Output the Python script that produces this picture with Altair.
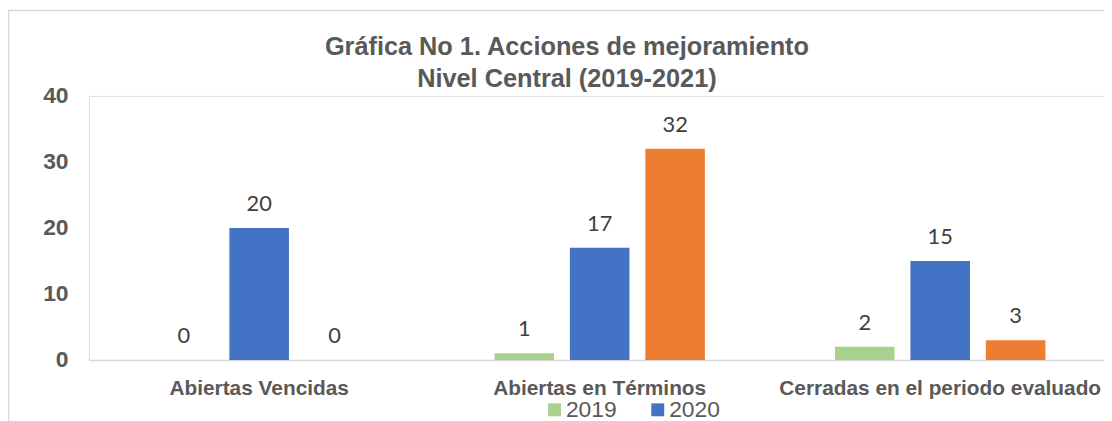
import altair as alt
import pandas as pd

categories = ["Abiertas Vencidas", "Abiertas en Términos", "Cerradas en el periodo evaluado"]
years = ["2019", "2020", "2021"]
v2019 = [0, 1, 2]
v2020 = [20, 17, 15]
v2021 = [0, 32, 3]
colors = ["#a9d18e", "#4472c4", "#ed7d31"]
y_ticks = [0, 10, 20, 30, 40]
title_lines = ["Gráfica No 1. Acciones de mejoramiento", "Nivel Central (2019-2021)"]

rows = []
for yr, vals in zip(years, [v2019, v2020, v2021]):
    for c, v in zip(categories, vals):
        rows.append({"Categoria": c, "Año": yr, "Valor": v})
df = pd.DataFrame(rows)

GRAY = "#595959"

x_enc = alt.X(
    "Categoria:N",
    sort=categories,
    scale=alt.Scale(paddingInner=0, paddingOuter=0),
    axis=alt.Axis(
        title=None, labelAngle=0, labelFont="Liberation Sans", labelFontWeight="bold",
        labelFontSize=21, labelColor=GRAY, ticks=False, domainColor="#d9d9d9",
        domainWidth=1.5, labelPadding=18, labelLimit=500,
    ),
)
xoff_enc = alt.XOffset("Año:N", sort=years, scale=alt.Scale(paddingInner=0.2105, paddingOuter=0.862))
y_enc = alt.Y(
    "Valor:Q",
    scale=alt.Scale(domain=[0, 40], nice=False),
    axis=alt.Axis(
        values=y_ticks, title=None, grid=False, domain=False, ticks=False,
        labelFont="Liberation Sans", labelFontWeight="bold", labelFontSize=23,
        labelColor=GRAY, labelPadding=21,
    ),
)

base = alt.Chart(df)

bars = base.mark_bar().encode(
    x=x_enc,
    xOffset=xoff_enc,
    y=y_enc,
    color=alt.Color(
        "Año:N",
        sort=years,
        scale=alt.Scale(domain=years, range=colors),
        legend=alt.Legend(
            title=None, orient="none", legendX=457.5, legendY=304.5,
            direction="horizontal", columns=2, symbolType="square", symbolSize=169,
            symbolStrokeWidth=0, labelFont="Liberation Sans", labelFontSize=23,
            labelColor=GRAY, columnPadding=29, rowPadding=12, padding=0,
            labelOffset=0, symbolOffset=0,
        ),
    ),
)

labels = base.mark_text(
    font="Lato", fontSize=22, color="#404040", dy=-17, baseline="alphabetic"
).encode(
    x=alt.X("Categoria:N", sort=categories),
    xOffset=alt.XOffset("Año:N", sort=years),
    y=alt.Y("Valor:Q"),
    text=alt.Text("Valor:Q"),
)

title_l1 = alt.Chart(alt.Data(values=[{"t": title_lines[0]}])).mark_text(
    font="Liberation Sans", fontSize=25.5, fontWeight="bold", color=GRAY,
    align="center", baseline="alphabetic",
).encode(x=alt.value(481.5), y=alt.value(-41), text="t:N")
title_l2 = alt.Chart(alt.Data(values=[{"t": title_lines[1]}])).mark_text(
    font="Liberation Sans", fontSize=25.5, fontWeight="bold", color=GRAY,
    align="center", baseline="alphabetic",
).encode(x=alt.value(481.5), y=alt.value(-9), text="t:N")

frame = alt.Data(values=[{"k": 0}])
left_border = alt.Chart(frame).mark_rule(color="#d9d9d9", strokeWidth=1.5).encode(
    x=alt.value(-81), y=alt.value(-86), y2=alt.value(330)
)
top_border = alt.Chart(frame).mark_rule(color="#d9d9d9", strokeWidth=1.5).encode(
    y=alt.value(-86), x=alt.value(-81), x2=alt.value(1040)
)

chart = alt.layer(bars, labels, title_l1, title_l2, left_border, top_border).properties(
    width=1029,
    height=266,
    autosize=alt.AutoSizeParams(type="none"),
    padding={"left": 81.5, "top": 87, "right": -6.5, "bottom": 60},
).configure_view(stroke=None).configure(background="white")

chart.save("out.html", embed_options={"renderer": "svg", "actions": False})
